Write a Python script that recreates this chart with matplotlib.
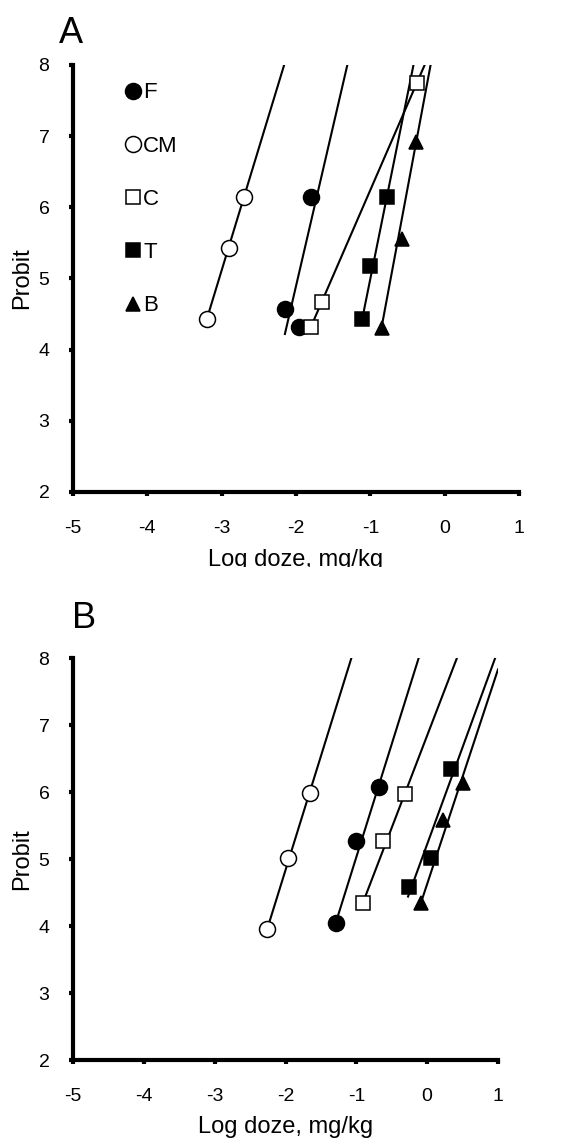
import matplotlib
matplotlib.use('Agg')
import matplotlib.pyplot as plt
from matplotlib.transforms import Bbox, TransformedBbox

plt.rcParams['font.family'] = ['Liberation Sans', 'DejaVu Sans']
plt.rcParams['axes.unicode_minus'] = False

series = ['F', 'CM', 'C', 'T', 'B']
markers = {'F': 'o', 'CM': 'o', 'C': 's', 'T': 's', 'B': '^'}
faces = {'F': 'black', 'CM': 'white', 'C': 'white', 'T': 'black', 'B': 'black'}
msizes = {'F': 11.5, 'CM': 11.5, 'C': 9.5, 'T': 9.5, 'B': 10}

# panel A: points (log dose, probit) and fitted line ends
a_x = {'F': [-1.80, -2.15, -1.96], 'CM': [-2.70, -2.90, -3.20],
       'C': [-0.37, -1.65, -1.80], 'T': [-0.77, -1.00, -1.11],
       'B': [-0.38, -0.58, -0.85]}
a_y = {'F': [6.15, 4.57, 4.32], 'CM': [6.15, 5.43, 4.43],
       'C': [7.75, 4.67, 4.32], 'T': [6.15, 5.17, 4.43],
       'B': [6.92, 5.55, 4.31]}
a_line_x = {'F': [-2.15, -1.31], 'CM': [-3.20, -2.16], 'C': [-1.80, -0.27],
            'T': [-1.11, -0.42], 'B': [-0.85, -0.19]}
a_line_y = {'F': [4.22, 8.0], 'CM': [4.43, 8.0], 'C': [4.32, 8.0],
            'T': [4.43, 8.0], 'B': [4.31, 8.0]}

# panel B
b_x = {'F': [-0.68, -1.00, -1.29], 'CM': [-1.66, -1.97, -2.26],
       'C': [-0.32, -0.63, -0.91], 'T': [0.33, 0.05, -0.26],
       'B': [0.51, 0.22, -0.09]}
b_y = {'F': [6.08, 5.27, 4.05], 'CM': [5.98, 5.02, 3.95],
       'C': [5.97, 5.27, 4.34], 'T': [6.35, 5.02, 4.58],
       'B': [6.14, 5.58, 4.34]}
b_line_x = {'F': [-1.29, -0.12], 'CM': [-2.26, -1.07], 'C': [-0.91, 0.42],
            'T': [-0.27, 0.96], 'B': [-0.09, 1.0]}
b_line_y = {'F': [4.05, 8.0], 'CM': [3.95, 8.0], 'C': [4.34, 8.0],
            'T': [4.44, 8.0], 'B': [4.34, 7.83]}

x_ticks = [-5, -4, -3, -2, -1, 0, 1]
y_ticks = [2, 3, 4, 5, 6, 7, 8]

fig = plt.figure(figsize=(5.75, 11.42), dpi=100)
axA = fig.add_axes([0.127, 0.5692, 0.7757, 0.3739])
axB = fig.add_axes([0.127, 0.0718, 0.7391, 0.3520])


def draw(ax, px, py, lx, ly):
    for s in series:
        ax.plot(lx[s], ly[s], color='black', linewidth=1.5, zorder=2)
    for s in series:
        ax.plot(px[s], py[s], linestyle='none', marker=markers[s],
                markersize=msizes[s], markerfacecolor=faces[s],
                markeredgecolor='black', markeredgewidth=1.1,
                label=s, zorder=3)
    ax.set_xlim(-5, 1)
    ax.set_ylim(2, 8)
    ax.set_xticks(x_ticks)
    ax.set_yticks(y_ticks)
    for side in ['top', 'right']:
        ax.spines[side].set_visible(False)
    for side in ['left', 'bottom']:
        ax.spines[side].set_linewidth(3)
    ax.tick_params(direction='out', length=3, width=3, labelsize=14)
    ax.tick_params(axis='x', pad=17)
    ax.tick_params(axis='y', pad=14)
    ax.set_ylabel('Probit', fontsize=17, labelpad=4)


draw(axA, a_x, a_y, a_line_x, a_line_y)
draw(axB, b_x, b_y, b_line_x, b_line_y)

axA.legend(loc='upper left', bbox_to_anchor=(0.1, 0.98), frameon=False,
           fontsize=16, handlelength=0.6, handletextpad=0.15,
           labelspacing=1.45, borderaxespad=0)

# panel A x label is cut off at the bottom in the original
lblA = axA.set_xlabel('Log doze, mg/kg', fontsize=17, labelpad=9)
lblA.set_clip_box(TransformedBbox(Bbox([[0, 1 - 567 / 1142], [1, 1]]), fig.transFigure))
lblA.set_clip_on(True)
axB.set_xlabel('Log doze, mg/kg', fontsize=17, labelpad=8)

fig.text(59 / 575, 1 - 43 / 1142, 'A', fontsize=26)
fig.text(72 / 575, 1 - 628 / 1142, 'B', fontsize=26)

fig.savefig('out.png', dpi=100)
